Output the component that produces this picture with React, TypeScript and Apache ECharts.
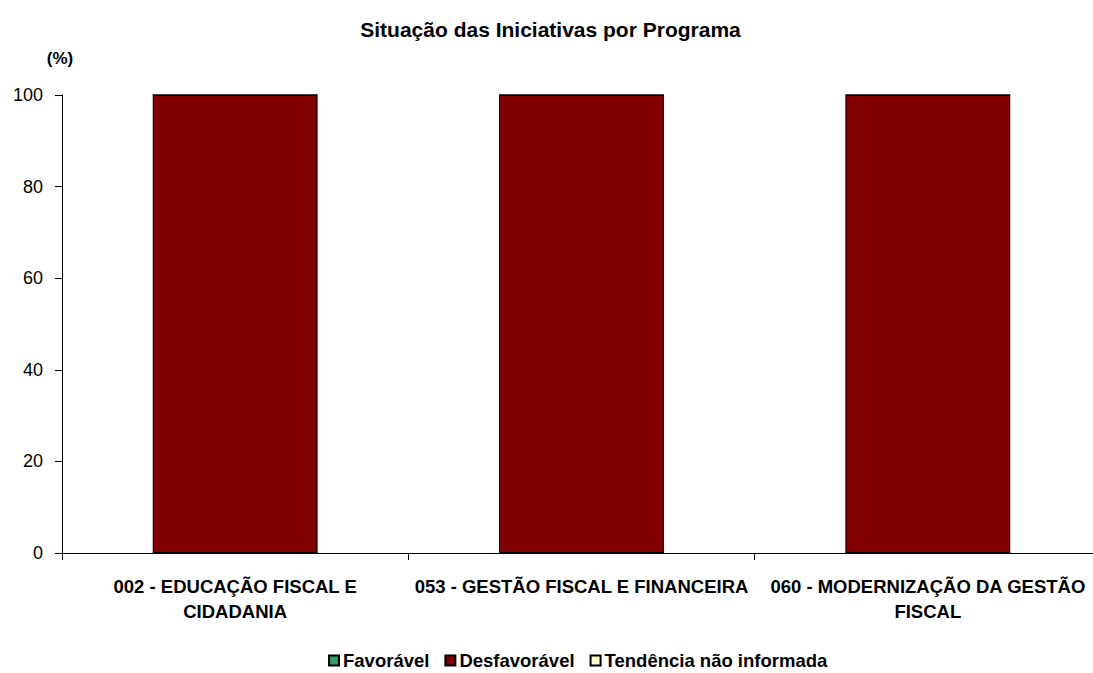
import React, { useEffect, useRef } from "react";
import * as echarts from "echarts";

const categories = [
  "002 - EDUCAÇÃO FISCAL E\nCIDADANIA",
  "053 - GESTÃO FISCAL E FINANCEIRA",
  "060 - MODERNIZAÇÃO DA GESTÃO\nFISCAL",
];
const favoravel = [0, 0, 0];
const desfavoravel = [100, 100, 100];
const naoInformada = [0, 0, 0];
const yTicks = { min: 0, max: 100, interval: 20 };

export default function App() {
  const ref = useRef<HTMLDivElement>(null);
  useEffect(() => {
    const chart = echarts.init(ref.current!, null, { renderer: "svg" });
    const font = "Arial, 'Liberation Sans', sans-serif";
    chart.setOption({
      animation: false,
      textStyle: { fontFamily: font, color: "#000" },
      title: {
        text: "Situação das Iniciativas por Programa",
        left: "center",
        top: 14,
        padding: [5, 13, 5, 5],
        textStyle: { fontSize: 21, fontWeight: "bold", color: "#000", fontFamily: font },
      },
      legend: {
        top: 646,
        left: 323,
        itemWidth: 10,
        itemHeight: 10,
        itemGap: 15,
        icon: "rect",
        textStyle: { fontSize: 18.5, fontWeight: "bold", color: "#000", fontFamily: font, padding: [0, 0, 0, -1] },
        data: ["Favorável", "Desfavorável", "Tendência não informada"],
      },
      grid: { left: 62, right: 0, top: 95, bottom: 120, containLabel: false },
      xAxis: {
        type: "category",
        data: categories,
        axisLine: { lineStyle: { color: "#000", width: 1 } },
        axisTick: { show: true, length: 7, lineStyle: { color: "#000" } },
        axisLabel: {
          interval: 0,
          fontSize: 18.5,
          fontWeight: "bold",
          color: "#000",
          fontFamily: font,
          margin: 21,
          lineHeight: 25,
        },
      },
      yAxis: {
        type: "value",
        min: yTicks.min,
        max: yTicks.max,
        interval: yTicks.interval,
        name: "(%)",
        nameLocation: "end",
        nameGap: 28,
        nameTextStyle: { fontSize: 17, fontWeight: "bold", color: "#000", fontFamily: font, padding: [0, 4, 0, 0] },
        axisLine: { show: true, lineStyle: { color: "#000" } },
        axisTick: { show: true, length: 7, lineStyle: { color: "#000" } },
        splitLine: { show: false },
        axisLabel: { fontSize: 18, color: "#000", fontFamily: font, margin: 19 },
      },
      series: [
        {
          name: "Favorável",
          type: "bar",
          stack: "a",
          data: favoravel,
          barWidth: "47.6%",
          itemStyle: { color: "#339966", borderColor: "#000", borderWidth: 1 },
        },
        {
          name: "Desfavorável",
          type: "bar",
          stack: "a",
          data: desfavoravel,
          barWidth: "47.6%",
          itemStyle: { color: "#800000", borderColor: "#000", borderWidth: 1 },
        },
        {
          name: "Tendência não informada",
          type: "bar",
          stack: "a",
          data: naoInformada,
          barWidth: "47.6%",
          itemStyle: { color: "#FFFFCC", borderColor: "#000", borderWidth: 1 },
        },
      ],
    });
    return () => chart.dispose();
  }, []);
  return (
    <div style={{ width: 1093, height: 673, position: "absolute", left: 0, top: 0, overflow: "hidden" }}>
      <div ref={ref} style={{ width: 1101, height: 673 }} />
    </div>
  );
}
